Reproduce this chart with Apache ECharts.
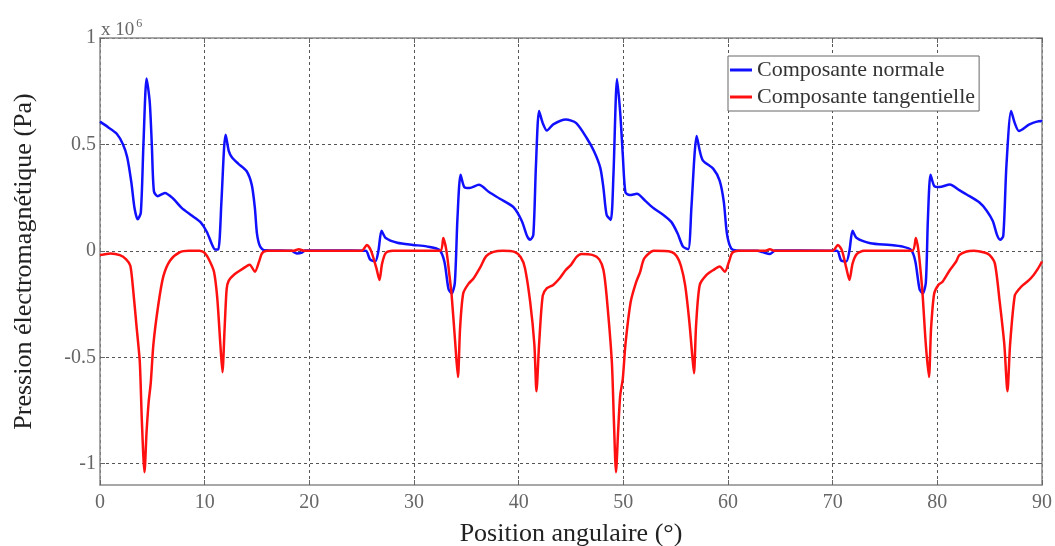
<!DOCTYPE html>
<html>
<head>
<meta charset="utf-8">
<script src="https://cdn.jsdelivr.net/npm/echarts@6/dist/echarts.min.js"></script>
<style>html,body{margin:0;padding:0;background:#fff}#c{width:1055px;height:546px}</style>
</head>
<body>
<div id="c"></div>
<script>
// Values in units of 1e6 Pa
const normalX = [0,0.8,1.6,2.2,2.6,3.0,3.3,3.6,3.9,4.15,4.45,4.75,4.95,5.15,5.5,6.2,7.0,7.8,8.8,9.6,10.2,10.7,11.0,11.3,11.6,11.85,12.0,12.3,12.6,13.2,14.0,14.5,14.8,15.0,15.3,15.7,17,18.3,18.8,19.3,19.6,21,24,25.4,25.8,26.3,26.6,26.9,27.3,28.4,29.9,31.2,32.4,32.9,33.3,33.6,33.9,34.15,34.45,34.8,35.3,36.2,37.2,38.2,39.5,40.3,40.8,41.1,41.4,41.65,41.95,42.3,42.7,43.3,44.5,45.5,46.5,47.2,47.8,48.1,48.4,48.8,49.05,49.4,49.7,49.95,50.2,50.6,51.3,52.1,52.9,53.8,54.6,55.2,55.7,56.2,56.5,56.8,57.0,57.3,57.6,58.6,59.2,59.6,59.9,60.3,60.8,62.8,63.3,64.0,64.5,67,70.4,70.8,71.3,71.6,71.9,72.3,73.6,75.5,76.7,77.5,77.9,78.3,78.6,78.9,79.1,79.35,79.7,80.2,81.2,82.1,82.8,84.0,84.7,85.3,85.7,86.0,86.3,86.6,87.05,87.4,87.8,88.8,89.9,90];
const normalY = [0.607,0.58,0.55,0.5,0.44,0.32,0.2,0.148,0.18,0.5,0.81,0.7,0.5,0.28,0.257,0.272,0.245,0.202,0.165,0.135,0.09,0.03,0.006,0.006,0.23,0.48,0.545,0.47,0.44,0.41,0.375,0.31,0.2,0.08,0.02,0.003,0.002,0.0,-0.012,-0.008,0.002,0.002,0.002,0.0,-0.04,-0.05,0.0,0.094,0.06,0.038,0.028,0.021,0.005,-0.05,-0.18,-0.2,-0.15,0.15,0.358,0.3,0.295,0.31,0.275,0.245,0.205,0.14,0.07,0.052,0.075,0.4,0.657,0.6,0.565,0.594,0.617,0.6,0.53,0.468,0.39,0.295,0.17,0.145,0.35,0.807,0.65,0.45,0.275,0.262,0.268,0.235,0.2,0.17,0.135,0.08,0.02,0.008,0.2,0.45,0.54,0.47,0.425,0.385,0.33,0.23,0.08,0.012,0.002,0.0,-0.006,-0.015,0.002,0.002,0.0,-0.045,-0.05,0.0,0.094,0.06,0.036,0.028,0.02,0.004,-0.05,-0.18,-0.2,-0.15,0.15,0.358,0.305,0.3,0.312,0.285,0.265,0.228,0.19,0.14,0.075,0.052,0.07,0.4,0.657,0.6,0.563,0.594,0.61,0.607];

const tangX = [0,1.0,1.9,2.5,2.9,3.2,3.5,3.8,4.0,4.25,4.45,4.65,4.85,5.1,5.55,6.05,6.7,7.6,8.5,9.5,10.0,10.5,10.9,11.2,11.5,11.7,11.9,12.1,12.3,12.8,13.6,14.3,14.8,15.2,15.5,16,18.5,19,19.5,25.0,25.5,25.9,26.4,26.7,26.95,27.3,28,32.5,32.8,33.1,33.4,33.6,33.95,34.2,34.4,34.7,35.2,35.7,36.3,36.9,37.6,38.5,39.6,40.2,40.6,41.1,41.5,41.7,41.95,42.3,42.7,43.3,43.9,44.5,45.0,45.5,46,47.1,47.7,48.1,48.4,48.9,49.1,49.3,49.5,49.7,49.95,50.2,50.7,51.2,51.6,52.0,52.9,54.6,55.1,55.5,55.9,56.3,56.6,56.75,56.95,57.3,57.95,58.6,59.2,59.7,60.1,60.4,61,63.5,64,64.5,70.0,70.5,70.9,71.3,71.6,71.9,72.3,73,77.6,77.95,78.2,78.45,78.6,78.9,79.2,79.4,79.7,80.1,80.5,81.2,81.8,82.1,82.8,83.5,84.5,85.0,85.5,85.96,86.4,86.7,86.95,87.4,87.8,88.2,88.7,89.2,89.6,90];
const tangY = [-0.02,-0.012,-0.02,-0.04,-0.07,-0.2,-0.36,-0.52,-0.8,-1.04,-0.85,-0.71,-0.62,-0.44,-0.26,-0.12,-0.045,-0.007,0.0,0.0,-0.01,-0.05,-0.1,-0.22,-0.44,-0.57,-0.37,-0.18,-0.14,-0.112,-0.085,-0.065,-0.098,-0.05,-0.01,0.0,0.0,0.008,0.0,0.0,0.028,0.0,-0.08,-0.137,-0.06,-0.01,0.0,0.0,0.06,0.0,-0.12,-0.21,-0.44,-0.593,-0.365,-0.2,-0.155,-0.129,-0.08,-0.025,-0.005,0.0,-0.005,-0.03,-0.08,-0.24,-0.44,-0.66,-0.44,-0.21,-0.175,-0.16,-0.13,-0.09,-0.066,-0.03,-0.015,-0.02,-0.04,-0.09,-0.21,-0.52,-0.8,-1.04,-0.85,-0.68,-0.6,-0.44,-0.24,-0.15,-0.1,-0.035,0.0,-0.005,-0.025,-0.07,-0.16,-0.33,-0.5,-0.575,-0.35,-0.16,-0.113,-0.09,-0.074,-0.098,-0.05,-0.01,0.0,0.0,0.007,0.0,0.0,0.028,0.0,-0.08,-0.137,-0.06,-0.015,0.0,0.0,0.06,0.0,-0.12,-0.21,-0.44,-0.593,-0.365,-0.2,-0.16,-0.145,-0.09,-0.05,-0.02,-0.003,0.0,-0.008,-0.02,-0.06,-0.24,-0.44,-0.66,-0.44,-0.21,-0.18,-0.16,-0.14,-0.113,-0.085,-0.05];

const xTicks = [0,10,20,30,40,50,60,70,80,90];
const yTicks = [-1,-0.5,0,0.5,1];
const seriesNames = ['Composante normale','Composante tangentielle'];

const zip = (xs, ys) => xs.map((x, i) => [x, ys[i]]);
const FONT = '"Liberation Serif","DejaVu Serif",serif';
const frame = {show:true, onZero:false, lineStyle:{color:'#8a8a8a', width:1.5}};
const grid = {show:true, lineStyle:{color:'#555', width:1, type:[3,3]}};

const chart = echarts.init(document.getElementById('c'), null, {renderer:'canvas'});
chart.setOption({
  animation:false,
  backgroundColor:'#fff',
  grid:{left:100, right:13, top:38, bottom:61, containLabel:false, outerBoundsMode:'none'},
  legend:{
    orient:'vertical', left:728, top:56,
    data:seriesNames,
    icon:'rect', itemWidth:22, itemHeight:3, itemGap:5,
    backgroundColor:'#fff', borderColor:'#666', borderWidth:1,
    padding:[3,4,3,2],
    textStyle:{fontFamily:FONT, fontSize:22, color:'#333'}
  },
  graphic:[{
    type:'text', left:101, top:18,
    style:{
      text:'{a|x 10}{b|6}',
      rich:{
        a:{fontFamily:FONT, fontSize:19, fill:'#666', verticalAlign:'bottom', lineHeight:22},
        b:{fontFamily:FONT, fontSize:12, fill:'#666', verticalAlign:'top', lineHeight:22, padding:[0,0,10,2]}
      }
    }
  }],
  xAxis:[{
    type:'value', min:0, max:90, interval:10, position:'bottom',
    name:'Position angulaire (°)', nameLocation:'middle', nameGap:36,
    nameTextStyle:{fontFamily:FONT, fontSize:26, color:'#222'},
    axisLine:frame,
    axisTick:{show:true, inside:true, length:5, lineStyle:{color:'#666'}},
    axisLabel:{fontFamily:FONT, fontSize:20, color:'#666', margin:8},
    splitLine:grid
  },{
    type:'value', min:0, max:90, interval:10, position:'top',
    axisLine:frame,
    axisTick:{show:true, inside:true, length:5, lineStyle:{color:'#666'}},
    axisLabel:{show:false}, splitLine:{show:false}
  }],
  yAxis:[{
    type:'value', min:-1.1, max:1, position:'left',
    name:'Pression électromagnétique (Pa)', nameLocation:'middle', nameGap:63,
    nameTextStyle:{fontFamily:FONT, fontSize:26, color:'#222'},
    axisLine:frame,
    axisTick:{show:true, inside:true, length:5, customValues:yTicks, lineStyle:{color:'#666'}},
    axisLabel:{fontFamily:FONT, fontSize:20, color:'#666', margin:4, customValues:yTicks,
      formatter:v => String(v)},
    splitLine:grid
  },{
    type:'value', min:-1.1, max:1, position:'right',
    axisLine:frame,
    axisTick:{show:true, inside:true, length:5, customValues:yTicks, lineStyle:{color:'#666'}},
    axisLabel:{show:false}, splitLine:{show:false}
  }],
  series:[{
    name:seriesNames[0], type:'line', data:zip(normalX, normalY),
    showSymbol:false, smooth:0.25, color:'#1010ff',
    lineStyle:{width:2.5, color:'#1010ff'}
  },{
    name:seriesNames[1], type:'line', data:zip(tangX, tangY),
    showSymbol:false, smooth:0.25, color:'#ff1010',
    lineStyle:{width:2.5, color:'#ff1010'}
  }]
});
</script>
</body>
</html>
